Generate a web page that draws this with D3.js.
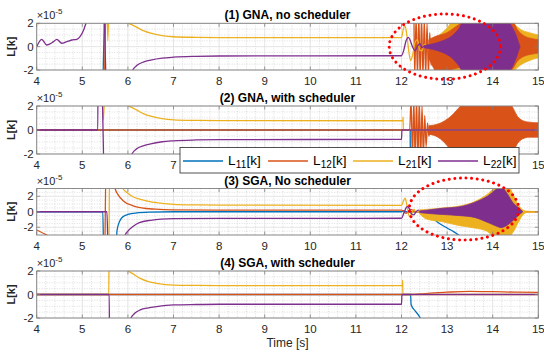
<!DOCTYPE html>
<html>
<head>
<meta charset="utf-8">
<script src="https://cdn.jsdelivr.net/npm/d3@7"></script>
<style>
  body { margin: 0; background: #fff; }
  text { font-family: "Liberation Sans", Arial, sans-serif; }
</style>
</head>
<body>
<script>
// ---- data (values in units of 1e-5, time in s) ----
const xTicks = [4, 5, 6, 7, 8, 9, 10, 11, 12, 13, 14, 15];
const titles = ['(1) GNA, no scheduler', '(2) GNA, with scheduler',
                '(3) SGA, No scheduler', '(4) SGA, with scheduler'];
const yDomains = [[-2, 2], [-2, 2], [-3, 3], [-2, 2]];
const yTicks = [[-2, 0, 2], [-2, 0, 2], [-2, 0, 2], [-2, 0, 2]];
const seriesNames = ['11', '12', '21', '22'];
const colors = ['#0072BD', '#D95319', '#EDB120', '#7E2F8E'];

// (1) GNA, no scheduler
const p1L11 = [[4, -6], [5.43, -6], [5.47, 0], [5.51, 6], [15, 6]];
const p1L12 = [[4, -6], [5.46, -6], [5.54, 6], [12.26, 6], [12.29, -2.6], [12.32, 2.6], [12.35, -2.6],
  [12.38, 2.6], [12.41, -2.6], [12.44, 2.6], [12.47, -2.6], [12.5, 2.4], [12.53, -2.6], [12.56, 2.0],
  [12.59, -2.4], [12.62, 1.2], [12.65, -1.6], [12.68, 0]];
const p1L21 = [[4, 2.6], [4.04, 1.95], [4.08, 2.6], [5.53, 6], [5.56, 0.5], [5.6, 6], [5.98, 6],
  [6.0, 2.05], [6.1, 1.85], [6.2, 1.65], [6.35, 1.35], [6.5, 1.15], [6.75, 0.95], [7, 0.85],
  [7.5, 0.8], [8, 0.78], [12, 0.77], [12.04, 1.5], [12.08, 1.75], [12.12, 0.9], [12.16, -0.4],
  [12.2, -1.2], [12.25, -0.6], [12.3, 0.4], [12.35, 0.6], [12.4, -0.3], [12.45, -0.35],
  [12.5, 0.2], [12.55, 0.1], [12.6, 0]];
const p1L22 = [[4, 0], [4.11, 0.63], [4.22, 0.14], [4.37, 0.43], [4.44, 0.63], [4.55, 0.29],
  [4.66, 0.43], [4.77, 0.57], [4.88, 0.63], [4.95, 0.86], [5.03, 1.43], [5.08, 2.0], [5.2, 3.5],
  [5.3, 6], [5.44, 6], [5.56, -6], [6.05, -6], [6.1, -2.05], [6.2, -1.6], [6.35, -1.3], [6.5, -1.15],
  [6.75, -0.98], [7, -0.9], [7.5, -0.83], [8, -0.8], [12, -0.78], [12.05, -0.3], [12.1, 0.5],
  [12.15, 0.8], [12.2, 0.45], [12.25, -0.1], [12.3, -0.35], [12.35, 0.05], [12.4, 0.25],
  [12.45, -0.1], [12.5, 0.05], [12.55, 0]];
// dense oscillation envelopes: [t, lower, upper]
const p1BandL21 = [[12.6, -0.3, 0.3], [12.8, -0.8, 0.9], [13.0, -1.4, 1.6], [13.15, -2.0, 2.3],
  [13.3, -2.4, 2.4], [14.3, -2.4, 2.4], [14.45, -2.1, 2.0], [14.6, -1.6, 1.5], [14.8, -1.2, 1.2],
  [15, -0.95, 1.0]];
const p1BandL12 = [[12.6, -1.0, 0.6], [12.7, -1.8, 0.8], [12.8, -2.4, 0.95], [13.0, -2.4, 1.2],
  [13.15, -1.9, 1.6], [13.3, -1.8, 2.0], [13.45, -2.0, 2.4], [14.4, -2.0, 2.4], [14.55, -1.2, 1.4],
  [14.7, -0.8, 0.9], [14.85, -0.65, 0.7], [15, -0.55, 0.6]];
const p1BandL22 = [[12.5, -0.1, 0.1], [12.7, -0.25, 0.25], [12.9, -0.5, 0.5], [13.1, -0.95, 0.9],
  [13.25, -1.6, 1.5], [13.4, -2.4, 2.4], [14.3, -2.4, 2.4], [14.42, -1.8, 1.7], [14.52, -0.9, 0.9],
  [14.58, -0.2, 0.2], [14.6, 0, 0]];

// (2) GNA, with scheduler
const p2L11 = [[4, 0], [12.19, 0], [12.2, -6]];
const p2L12 = [[4, 0], [12.18, 0], [12.21, 2.6], [12.24, -2.6], [12.27, 2.6], [12.3, -2.6],
  [12.33, 2.6], [12.36, -2.6], [12.39, 2.6], [12.42, -2.6], [12.45, 2.0], [12.48, -2.2],
  [12.51, 1.2], [12.54, -1.4], [12.57, 0.6], [12.6, -0.5], [12.63, 0]];
const p2L21 = [[4, 6], [5.4, 6], [5.46, 0.82], [5.53, 6], [5.99, 6], [6.0, 2.05], [6.1, 1.85],
  [6.2, 1.65], [6.35, 1.35], [6.5, 1.15], [6.75, 0.95], [7, 0.85], [7.5, 0.8], [8, 0.78],
  [12.03, 0.77], [12.035, 1.1], [12.04, 0], [15, 0]];
const p2L22 = [[4, 0], [5.34, 0], [5.345, 6], [5.41, 6], [5.5, -6], [6.05, -6], [6.08, -2.05],
  [6.2, -1.55], [6.35, -1.3], [6.5, -1.15], [6.75, -0.98], [7, -0.9], [7.5, -0.83], [8, -0.8],
  [12.0, -0.78], [12.01, 0], [15, 0]];
const p2BandL12 = [[12.6, -0.35, 0.35], [12.8, -0.6, 0.5], [13.0, -1.3, 0.9], [13.1, -1.8, 1.2],
  [13.2, -2.4, 1.6], [13.35, -2.4, 2.2], [13.45, -2.4, 2.4], [14.35, -2.4, 2.4], [14.45, -1.8, 1.8],
  [14.55, -1.1, 1.1], [14.65, -0.75, 0.8], [14.8, -0.6, 0.65], [15, -0.6, 0.6]];

// (3) SGA, No scheduler
const p3L11 = [[4, 0], [5.45, 0], [5.47, -6], [5.73, -6], [5.76, -2.5], [5.8, -1.5], [5.85, -0.9],
  [5.9, -0.6], [6.0, -0.35], [6.2, -0.15], [6.5, -0.05], [7, 0], [12, 0], [12.05, 0.15], [12.1, 0],
  [12.4, 0], [12.55, -0.3], [12.7, -0.9], [12.8, -1.4], [13.0, -2.1], [13.15, -2.6], [13.3, -3.2]];
const p3L12 = [[4, -2.35], [4.22, -3.0], [4.4, -3.6], [5.49, -6], [5.52, 6], [5.7, 6], [5.72, 3.0],
  [5.79, 2.15], [5.9, 1.4], [6.1, 0.8], [6.3, 0.5], [6.6, 0.33], [7, 0.24], [8, 0.2], [12, 0.2],
  [12.1, -0.2], [12.2, 0.3], [12.3, 0], [15, 0]];
const p3L21 = [[4, -6], [5.58, -6], [5.6, 6], [5.87, 6], [5.89, 3.0], [6.0, 2.4], [6.11, 1.94],
  [6.3, 1.55], [6.48, 1.3], [6.75, 1.08], [7, 0.96], [7.5, 0.88], [8, 0.85], [12, 0.83],
  [12.05, 1.5], [12.08, 1.75], [12.12, 0.8], [12.17, -0.6], [12.22, -0.3], [12.27, 0.3],
  [12.32, 0], [12.4, 0]];
const p3L22 = [[4, 0], [5.54, 0], [5.57, -6], [5.92, -6], [5.94, -3.0], [6.0, -2.5], [6.11, -1.9],
  [6.25, -1.4], [6.5, -1.1], [7, -0.9], [8, -0.85], [12, -0.84], [12.05, -0.2], [12.1, 0.5],
  [12.13, 0.7], [12.18, 0.3], [12.22, -0.3], [12.27, -0.4], [12.32, 0], [12.37, 0.2], [12.42, 0]];
const p3BandL21 = [[12.4, -0.3, 0.25], [12.55, -0.95, 0.3], [12.9, -1.3, 0.5], [13.28, -1.8, 0.75],
  [13.6, -2.1, 1.3], [13.87, -2.5, 2.2], [14.05, -3.2, 3.0], [14.35, -3.2, 3.2], [14.45, -2.6, 2.2],
  [14.55, -1.5, 1.0], [14.65, -0.5, 0.3], [14.75, -0.1, 0.08], [15, -0.02, 0.02]];
const p3BandL22 = [[12.4, -0.1, 0.1], [12.55, -0.2, 0.2], [12.9, -0.35, 0.45], [13.28, -0.5, 0.65],
  [13.6, -0.73, 1.2], [13.9, -1.4, 2.06], [14.1, -1.9, 3.0], [14.18, -2.05, 3.3], [14.3, -1.8, 2.5],
  [14.44, -1.16, 1.2], [14.6, -0.3, 0.34], [14.66, 0, 0]];

// (4) SGA, with scheduler
const p4L11 = [[4, 0], [12.2, 0], [12.21, -0.85], [12.3, -1.4], [12.41, -2.0], [12.47, -2.6]];
const p4L12 = [[4, 0], [12.2, 0], [12.5, 0.08], [13, 0.2], [13.5, 0.27], [14, 0.24], [14.5, 0.2],
  [15, 0.18]];
const p4L21 = [[4, 0], [5.58, 0], [5.59, 6], [5.99, 6], [6.0, 2.05], [6.1, 1.8], [6.27, 1.37],
  [6.45, 1.1], [6.63, 0.95], [7, 0.8], [7.5, 0.77], [8, 0.76], [12.02, 0.75], [12.025, 1.23],
  [12.03, 0], [15, 0]];
const p4L22 = [[4, 0], [5.59, 0], [5.6, -6], [6.04, -6], [6.06, -2.05], [6.15, -1.6], [6.27, -1.31],
  [6.45, -1.13], [6.63, -1.03], [7, -0.89], [7.5, -0.85], [8, -0.83], [12.0, -0.83], [12.01, 0],
  [15, 0]];

// red dotted annotation ellipses (panel index, centre and radii in data units)
const ellipses = [
  { panel: 0, cx: 12.95, cy: 0, rx: 1.22, ry: 2.8 },
  { panel: 2, cx: 13.37, cy: 0.35, rx: 1.2, ry: 4.0 }
];

// draw order per panel: [kind, series index, data]
const panels = [
  [['line', 0, p1L11], ['line', 1, p1L12], ['line', 2, p1L21], ['line', 3, p1L22],
   ['band', 2, p1BandL21], ['band', 1, p1BandL12], ['band', 3, p1BandL22]],
  [['line', 0, p2L11], ['line', 1, p2L12], ['band', 1, p2BandL12], ['line', 2, p2L21],
   ['line', 3, p2L22]],
  [['line', 0, p3L11], ['line', 1, p3L12], ['line', 2, p3L21], ['line', 3, p3L22],
   ['band', 2, p3BandL21], ['band', 3, p3BandL22]],
  [['line', 0, p4L11], ['line', 1, p4L12], ['line', 2, p4L21], ['line', 3, p4L22]]
];

// ---- layout ----
const width = 544, height = 353;
const plotX = [36.7, 538.3];
const panelY = [[23.3, 70], [106, 154], [188.5, 235], [271, 318]];
const legendBox = { x: 180, y: 147.5, w: 339, h: 25.5 };

const svg = d3.select('body').append('svg')
  .attr('width', width)
  .attr('height', height);

const x = d3.scaleLinear().domain([4, 15]).range(plotX);
const yScales = [];

panels.forEach((layers, i) => {
  const [top, bottom] = panelY[i];
  const y = d3.scaleLinear().domain(yDomains[i]).range([bottom, top]);
  yScales.push(y);
  const g = svg.append('g');

  // minor grid (dotted)
  const minorX = d3.range(4, 15.001, 0.2).filter(v => Math.abs(v - Math.round(v)) > 1e-6);
  const minorY = d3.range(yDomains[i][0], yDomains[i][1] + 0.001, 0.5)
    .filter(v => !yTicks[i].includes(v));
  g.selectAll('.mx').data(minorX).enter().append('line')
    .attr('x1', d => x(d)).attr('x2', d => x(d))
    .attr('y1', top).attr('y2', bottom)
    .attr('stroke', '#c8c8c8').attr('stroke-width', 0.6).attr('stroke-dasharray', '1,1.5');
  g.selectAll('.my').data(minorY).enter().append('line')
    .attr('x1', plotX[0]).attr('x2', plotX[1])
    .attr('y1', d => y(d)).attr('y2', d => y(d))
    .attr('stroke', '#c8c8c8').attr('stroke-width', 0.6).attr('stroke-dasharray', '1,1.5');

  // major grid
  g.selectAll('.gx').data(xTicks).enter().append('line')
    .attr('x1', d => x(d)).attr('x2', d => x(d))
    .attr('y1', top).attr('y2', bottom)
    .attr('stroke', '#dedede').attr('stroke-width', 0.8);
  g.selectAll('.gy').data(yTicks[i]).enter().append('line')
    .attr('x1', plotX[0]).attr('x2', plotX[1])
    .attr('y1', d => y(d)).attr('y2', d => y(d))
    .attr('stroke', '#dedede').attr('stroke-width', 0.8);

  // data, clipped to the axes box
  svg.append('clipPath').attr('id', 'clip' + i)
    .append('rect')
    .attr('x', plotX[0]).attr('y', top)
    .attr('width', plotX[1] - plotX[0]).attr('height', bottom - top);
  const data = g.append('g').attr('clip-path', `url(#clip${i})`);

  const line = d3.line().x(d => x(d[0])).y(d => y(d[1])).curve(d3.curveMonotoneX);
  const area = d3.area().x(d => x(d[0])).y0(d => y(d[1])).y1(d => y(d[2])).curve(d3.curveMonotoneX);

  layers.forEach(([kind, s, values]) => {
    if (kind === 'line') {
      data.append('path').datum(values)
        .attr('d', line)
        .attr('fill', 'none')
        .attr('stroke', colors[s])
        .attr('stroke-width', 1.3)
        .attr('stroke-linejoin', 'round');
    } else {
      data.append('path').datum(values)
        .attr('d', area)
        .attr('fill', colors[s])
        .attr('stroke', colors[s])
        .attr('stroke-width', 0.8);
    }
  });

  // axes box and inward ticks
  g.append('rect')
    .attr('x', plotX[0]).attr('y', top)
    .attr('width', plotX[1] - plotX[0]).attr('height', bottom - top)
    .attr('fill', 'none').attr('stroke', '#808080').attr('stroke-width', 0.9);
  const tl = 3.5;
  xTicks.forEach(t => {
    g.append('line').attr('x1', x(t)).attr('x2', x(t)).attr('y1', bottom).attr('y2', bottom - tl)
      .attr('stroke', '#808080').attr('stroke-width', 0.8);
    g.append('line').attr('x1', x(t)).attr('x2', x(t)).attr('y1', top).attr('y2', top + tl)
      .attr('stroke', '#808080').attr('stroke-width', 0.8);
  });
  yTicks[i].forEach(v => {
    g.append('line').attr('x1', plotX[0]).attr('x2', plotX[0] + tl).attr('y1', y(v)).attr('y2', y(v))
      .attr('stroke', '#808080').attr('stroke-width', 0.8);
    g.append('line').attr('x1', plotX[1]).attr('x2', plotX[1] - tl).attr('y1', y(v)).attr('y2', y(v))
      .attr('stroke', '#808080').attr('stroke-width', 0.8);
  });

  // tick labels (those hidden under the legend box are left out)
  const labelY = bottom + 15;
  const hidden = t => labelY > legendBox.y && labelY - 10 < legendBox.y + legendBox.h &&
    x(t) + 4 > legendBox.x && x(t) - 4 < legendBox.x + legendBox.w;
  g.selectAll('.xl').data(xTicks.filter(t => !hidden(t))).enter().append('text')
    .attr('x', d => x(d)).attr('y', labelY)
    .attr('text-anchor', 'middle')
    .attr('font-size', 11.5).attr('fill', '#262626')
    .text(d => d);
  g.selectAll('.yl').data(yTicks[i]).enter().append('text')
    .attr('x', plotX[0] - 3).attr('y', d => y(d) + 4)
    .attr('text-anchor', 'end')
    .attr('font-size', 11.5).attr('fill', '#262626')
    .text(d => d);

  // exponent label
  const ex = g.append('text').attr('x', plotX[0]).attr('y', top - 4)
    .attr('font-size', 11).attr('fill', '#262626');
  ex.append('tspan').text('\u00d710');
  ex.append('tspan').attr('dy', -5).attr('font-size', 8).text('-5');

  // title
  g.append('text')
    .attr('x', (plotX[0] + plotX[1]) / 2).attr('y', top - 4)
    .attr('text-anchor', 'middle')
    .attr('font-size', 12).attr('font-weight', 'bold')
    .text(titles[i]);

  // y label
  g.append('text')
    .attr('transform', `translate(15, ${(top + bottom) / 2}) rotate(-90)`)
    .attr('text-anchor', 'middle')
    .attr('font-size', 11).attr('font-weight', 'bold').attr('fill', '#262626')
    .text('L[k]');
});

// x axis label
svg.append('text')
  .attr('x', (plotX[0] + plotX[1]) / 2).attr('y', 347)
  .attr('text-anchor', 'middle')
  .attr('font-size', 12).attr('fill', '#262626')
  .text('Time [s]');

// legend: each label is laid out as L, subscript, [k] side by side
const legend = svg.append('g');
legend.append('rect')
  .attr('x', legendBox.x).attr('y', legendBox.y)
  .attr('width', legendBox.w).attr('height', legendBox.h)
  .attr('fill', '#fff').attr('stroke', '#262626').attr('stroke-width', 0.8);
seriesNames.forEach((s, k) => {
  const lx = 183 + k * 85;
  legend.append('line')
    .attr('x1', lx).attr('x2', lx + 40).attr('y1', 161).attr('y2', 161)
    .attr('stroke', colors[k]).attr('stroke-width', 1.6);
  let cx = lx + 45;
  const base = legend.append('text').attr('x', cx).attr('y', 164.5)
    .attr('font-size', 13.5).text('L');
  cx += base.node().getComputedTextLength() + 0.3;
  const sub = legend.append('text').attr('x', cx).attr('y', 167.5)
    .attr('font-size', 10).text(s);
  cx += sub.node().getComputedTextLength() + 0.3;
  legend.append('text').attr('x', cx).attr('y', 164.5)
    .attr('font-size', 13.5).text('[k]');
});

// red dotted ellipses
ellipses.forEach(e => {
  const y = yScales[e.panel];
  svg.append('ellipse')
    .attr('cx', x(e.cx)).attr('cy', y(e.cy))
    .attr('rx', x(e.cx + e.rx) - x(e.cx))
    .attr('ry', y(e.cy) - y(e.cy + e.ry))
    .attr('fill', 'none')
    .attr('stroke', '#ff0000')
    .attr('stroke-width', 3)
    .attr('stroke-linecap', 'round')
    .attr('stroke-dasharray', '0.01 5.6');
});
</script>
</body>
</html>
